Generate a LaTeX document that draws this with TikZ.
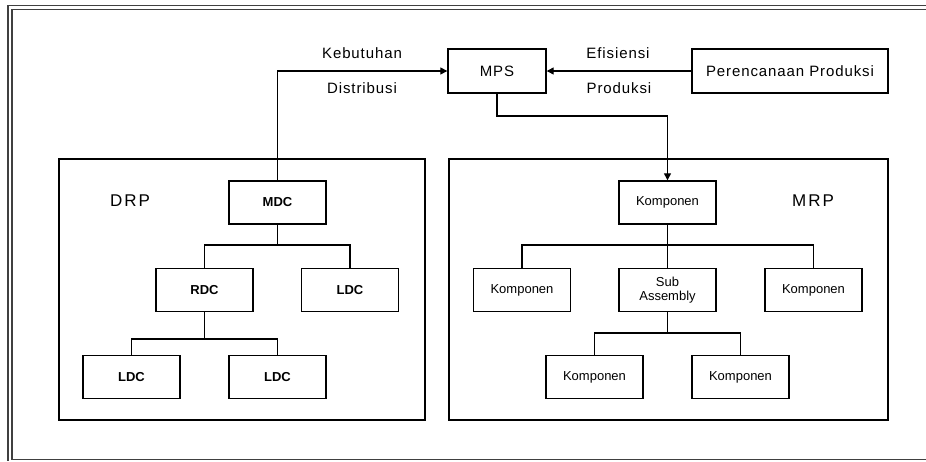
\documentclass[tikz,border=0pt]{standalone}
\usepackage{fontspec}
\setmainfont{Liberation Sans}
\usetikzlibrary{arrows.meta}
\begin{document}
\begin{tikzpicture}[x=1pt,y=-1pt,
  box/.style={draw,line width=1.4pt,minimum width=97pt,minimum height=43pt,inner sep=0pt,font=\fontsize{13}{14}\selectfont,align=center},
  dcbox/.style={box,font=\fontsize{13}{14}\selectfont\bfseries},
  topbox/.style={draw,line width=1.4pt,minimum height=44pt,inner sep=0pt,font=\fontsize{15}{18}\selectfont\addfontfeature{LetterSpace=6}},
  frame/.style={draw,line width=1.4pt,inner sep=0pt},
  toplabel/.style={inner sep=0pt,font=\fontsize{15}{18}\selectfont\addfontfeature{LetterSpace=6}},
  biglabel/.style={inner sep=0pt,font=\fontsize{17}{20}\selectfont\addfontfeature{LetterSpace=12}},
  conn/.style={line width=1.3pt},
  arr/.style={conn,-{Triangle[length=7pt,width=7pt]}}]
\useasboundingbox (0,0) rectangle (926,461);
% outer frame
\draw[line width=1.4pt,black!75] (926,5.5) -- (8,5.5) -- (8,461);
\draw[line width=1.4pt,black!75] (926,9.5) -- (12,9.5) -- (12,459.5) -- (926,459.5);
% top row
\node[topbox,minimum width=98pt] (mps) at (497,71) {MPS};
\node[topbox,minimum width=196pt] (pp) at (790,71) {Perencanaan Produksi};
\node[toplabel] (keb) at (362,53) {Kebutuhan};
\node[toplabel] (dis) at (362,88) {Distribusi};
\node[toplabel] (efi) at (618,53) {Efisiensi};
\node[toplabel] (pro) at (619,88) {Produksi};
% frames
\node[frame,minimum width=366pt,minimum height=261pt] (drpf) at (242,289.5) {};
\node[frame,minimum width=439pt,minimum height=261pt] (mrpf) at (668.5,289.5) {};
\node[biglabel] (drp) at (130,201) {DRP};
\node[biglabel] (mrp) at (813,201) {MRP};
% DRP tree
\node[dcbox] (mdc) at (277.5,202.5) {MDC};
\node[dcbox] (rdc) at (204.5,290) {RDC};
\node[dcbox] (ldca) at (350,290) {LDC};
\node[dcbox] (ldcb) at (131.5,377) {LDC};
\node[dcbox] (ldcc) at (277.5,377) {LDC};
% MRP tree
\node[box] (k0) at (667.5,202.5) {Komponen};
\node[box] (k1) at (522,290) {Komponen};
\node[box] (sa) at (667.5,290) {Sub\\Assembly};
\node[box] (k2) at (813.5,290) {Komponen};
\node[box] (k3) at (594.5,377) {Komponen};
\node[box] (k4) at (740.5,377) {Komponen};
% bus coordinates
\coordinate (bd1) at (277.5,245);
\coordinate (bd2) at (204.5,339);
\coordinate (bm1) at (667.5,245);
\coordinate (bm2) at (667.5,333);
\coordinate (mpsturn) at (497,116);
% top connectors
\draw[arr] (mdc.north) |- (mps.west);
\draw[arr] (pp.west) -- (mps.east);
\draw[arr] (mps.south) -- (mpsturn) -| (k0.north);
% DRP tree connectors
\draw[conn] (mdc.south) -- (bd1);
\draw[conn] (rdc.north) -- (rdc.north |- bd1) -- (ldca.north |- bd1) -- (ldca.north);
\draw[conn] (rdc.south) -- (bd2);
\draw[conn] (ldcb.north) -- (ldcb.north |- bd2) -- (ldcc.north |- bd2) -- (ldcc.north);
% MRP tree connectors
\draw[conn] (k0.south) -- (sa.north);
\draw[conn] (k1.north) -- (k1.north |- bm1) -- (k2.north |- bm1) -- (k2.north);
\draw[conn] (sa.south) -- (bm2);
\draw[conn] (k3.north) -- (k3.north |- bm2) -- (k4.north |- bm2) -- (k4.north);
\end{tikzpicture}
\end{document}
